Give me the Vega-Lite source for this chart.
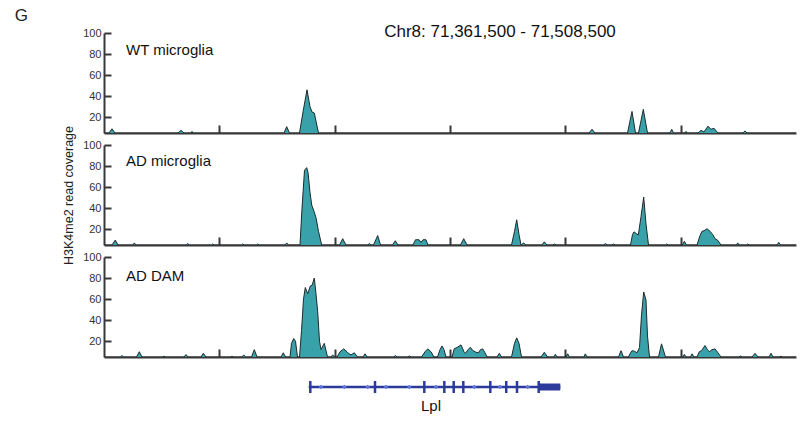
{
  "$schema": "https://vega.github.io/schema/vega-lite/v6.json",
  "padding": {"left": 14, "top": 6, "right": 5, "bottom": 5},
  "title": {"text": "G", "anchor": "start", "frame": "bounds", "fontSize": 17, "fontWeight": "normal", "color": "#222", "dx": -48, "offset": -2},
  "bounds": "flush",
  "spacing": 12,
  "config": {
    "font": "Liberation Sans",
    "view": {"stroke": null},
    "axis": {"domainColor": "#383838", "domainWidth": 2, "tickColor": "#383838", "tickWidth": 2, "labelColor": "#333", "labelFontSize": 11, "labelOverlap": false, "grid": false, "titleFontWeight": "normal", "titleColor": "#222"}
  },
  "datasets": {
    "cov": [
      {"track": "WT microglia", "pos": 71361500, "coverage": 5},
      {"track": "WT microglia", "pos": 71362562, "coverage": 5},
      {"track": "WT microglia", "pos": 71363199, "coverage": 9},
      {"track": "WT microglia", "pos": 71363837, "coverage": 5},
      {"track": "WT microglia", "pos": 71377220, "coverage": 5},
      {"track": "WT microglia", "pos": 71377857, "coverage": 7.5},
      {"track": "WT microglia", "pos": 71378494, "coverage": 5},
      {"track": "WT microglia", "pos": 71379981, "coverage": 5},
      {"track": "WT microglia", "pos": 71380194, "coverage": 6.5},
      {"track": "WT microglia", "pos": 71380406, "coverage": 5},
      {"track": "WT microglia", "pos": 71399737, "coverage": 5},
      {"track": "WT microglia", "pos": 71400311, "coverage": 11},
      {"track": "WT microglia", "pos": 71400906, "coverage": 5},
      {"track": "WT microglia", "pos": 71403030, "coverage": 5},
      {"track": "WT microglia", "pos": 71403774, "coverage": 25},
      {"track": "WT microglia", "pos": 71404623, "coverage": 46},
      {"track": "WT microglia", "pos": 71405261, "coverage": 30},
      {"track": "WT microglia", "pos": 71405685, "coverage": 25},
      {"track": "WT microglia", "pos": 71406174, "coverage": 24},
      {"track": "WT microglia", "pos": 71407066, "coverage": 5},
      {"track": "WT microglia", "pos": 71464529, "coverage": 5},
      {"track": "WT microglia", "pos": 71465166, "coverage": 8.5},
      {"track": "WT microglia", "pos": 71465803, "coverage": 5},
      {"track": "WT microglia", "pos": 71472707, "coverage": 5},
      {"track": "WT microglia", "pos": 71473663, "coverage": 25.5},
      {"track": "WT microglia", "pos": 71474407, "coverage": 5},
      {"track": "WT microglia", "pos": 71475044, "coverage": 5},
      {"track": "WT microglia", "pos": 71476064, "coverage": 27.5},
      {"track": "WT microglia", "pos": 71476956, "coverage": 5},
      {"track": "WT microglia", "pos": 71481735, "coverage": 5},
      {"track": "WT microglia", "pos": 71482097, "coverage": 8.5},
      {"track": "WT microglia", "pos": 71482479, "coverage": 5},
      {"track": "WT microglia", "pos": 71484922, "coverage": 5},
      {"track": "WT microglia", "pos": 71485134, "coverage": 6.5},
      {"track": "WT microglia", "pos": 71485347, "coverage": 5},
      {"track": "WT microglia", "pos": 71487683, "coverage": 5},
      {"track": "WT microglia", "pos": 71488321, "coverage": 7.5},
      {"track": "WT microglia", "pos": 71488958, "coverage": 6},
      {"track": "WT microglia", "pos": 71489808, "coverage": 11.5},
      {"track": "WT microglia", "pos": 71490445, "coverage": 8.5},
      {"track": "WT microglia", "pos": 71491082, "coverage": 9.5},
      {"track": "WT microglia", "pos": 71491932, "coverage": 5},
      {"track": "WT microglia", "pos": 71497243, "coverage": 5},
      {"track": "WT microglia", "pos": 71497668, "coverage": 7},
      {"track": "WT microglia", "pos": 71498092, "coverage": 5},
      {"track": "WT microglia", "pos": 71508500, "coverage": 5},

      {"track": "AD microglia", "pos": 71361500, "coverage": 5},
      {"track": "AD microglia", "pos": 71363199, "coverage": 5},
      {"track": "AD microglia", "pos": 71363900, "coverage": 9.7},
      {"track": "AD microglia", "pos": 71364474, "coverage": 5},
      {"track": "AD microglia", "pos": 71367660, "coverage": 5},
      {"track": "AD microglia", "pos": 71367937, "coverage": 7},
      {"track": "AD microglia", "pos": 71368298, "coverage": 5},
      {"track": "AD microglia", "pos": 71379025, "coverage": 5},
      {"track": "AD microglia", "pos": 71379280, "coverage": 6.5},
      {"track": "AD microglia", "pos": 71379557, "coverage": 5},
      {"track": "AD microglia", "pos": 71384336, "coverage": 5},
      {"track": "AD microglia", "pos": 71384591, "coverage": 6},
      {"track": "AD microglia", "pos": 71384867, "coverage": 5},
      {"track": "AD microglia", "pos": 71390709, "coverage": 5},
      {"track": "AD microglia", "pos": 71390964, "coverage": 6},
      {"track": "AD microglia", "pos": 71391240, "coverage": 5},
      {"track": "AD microglia", "pos": 71393896, "coverage": 5},
      {"track": "AD microglia", "pos": 71394150, "coverage": 6},
      {"track": "AD microglia", "pos": 71394427, "coverage": 5},
      {"track": "AD microglia", "pos": 71399950, "coverage": 5},
      {"track": "AD microglia", "pos": 71400311, "coverage": 7},
      {"track": "AD microglia", "pos": 71400693, "coverage": 5},
      {"track": "AD microglia", "pos": 71403136, "coverage": 5},
      {"track": "AD microglia", "pos": 71403561, "coverage": 40},
      {"track": "AD microglia", "pos": 71404092, "coverage": 76},
      {"track": "AD microglia", "pos": 71404560, "coverage": 78.5},
      {"track": "AD microglia", "pos": 71404836, "coverage": 74},
      {"track": "AD microglia", "pos": 71405261, "coverage": 55},
      {"track": "AD microglia", "pos": 71405622, "coverage": 43},
      {"track": "AD microglia", "pos": 71406110, "coverage": 37},
      {"track": "AD microglia", "pos": 71406535, "coverage": 31},
      {"track": "AD microglia", "pos": 71407066, "coverage": 18},
      {"track": "AD microglia", "pos": 71407746, "coverage": 5},
      {"track": "AD microglia", "pos": 71411527, "coverage": 5},
      {"track": "AD microglia", "pos": 71412207, "coverage": 11},
      {"track": "AD microglia", "pos": 71412908, "coverage": 5},
      {"track": "AD microglia", "pos": 71417582, "coverage": 5},
      {"track": "AD microglia", "pos": 71417858, "coverage": 6.5},
      {"track": "AD microglia", "pos": 71418219, "coverage": 5},
      {"track": "AD microglia", "pos": 71418750, "coverage": 5},
      {"track": "AD microglia", "pos": 71419642, "coverage": 14},
      {"track": "AD microglia", "pos": 71420237, "coverage": 5},
      {"track": "AD microglia", "pos": 71422786, "coverage": 5},
      {"track": "AD microglia", "pos": 71423381, "coverage": 9},
      {"track": "AD microglia", "pos": 71423954, "coverage": 5},
      {"track": "AD microglia", "pos": 71427141, "coverage": 5},
      {"track": "AD microglia", "pos": 71427672, "coverage": 10},
      {"track": "AD microglia", "pos": 71428415, "coverage": 10},
      {"track": "AD microglia", "pos": 71428840, "coverage": 7.5},
      {"track": "AD microglia", "pos": 71429265, "coverage": 10},
      {"track": "AD microglia", "pos": 71429902, "coverage": 10},
      {"track": "AD microglia", "pos": 71430327, "coverage": 5},
      {"track": "AD microglia", "pos": 71437231, "coverage": 5},
      {"track": "AD microglia", "pos": 71437911, "coverage": 11},
      {"track": "AD microglia", "pos": 71438612, "coverage": 5},
      {"track": "AD microglia", "pos": 71448065, "coverage": 5},
      {"track": "AD microglia", "pos": 71448703, "coverage": 18},
      {"track": "AD microglia", "pos": 71449170, "coverage": 29},
      {"track": "AD microglia", "pos": 71449658, "coverage": 15},
      {"track": "AD microglia", "pos": 71450083, "coverage": 5},
      {"track": "AD microglia", "pos": 71450657, "coverage": 7},
      {"track": "AD microglia", "pos": 71451039, "coverage": 5},
      {"track": "AD microglia", "pos": 71454544, "coverage": 5},
      {"track": "AD microglia", "pos": 71455033, "coverage": 8},
      {"track": "AD microglia", "pos": 71455606, "coverage": 5},
      {"track": "AD microglia", "pos": 71456881, "coverage": 5},
      {"track": "AD microglia", "pos": 71457157, "coverage": 6},
      {"track": "AD microglia", "pos": 71457518, "coverage": 5},
      {"track": "AD microglia", "pos": 71467715, "coverage": 5},
      {"track": "AD microglia", "pos": 71467991, "coverage": 6.5},
      {"track": "AD microglia", "pos": 71468352, "coverage": 5},
      {"track": "AD microglia", "pos": 71469414, "coverage": 5},
      {"track": "AD microglia", "pos": 71469690, "coverage": 6},
      {"track": "AD microglia", "pos": 71470052, "coverage": 5},
      {"track": "AD microglia", "pos": 71473344, "coverage": 5},
      {"track": "AD microglia", "pos": 71473769, "coverage": 15},
      {"track": "AD microglia", "pos": 71474088, "coverage": 17.5},
      {"track": "AD microglia", "pos": 71474513, "coverage": 16},
      {"track": "AD microglia", "pos": 71475001, "coverage": 14.5},
      {"track": "AD microglia", "pos": 71475575, "coverage": 32},
      {"track": "AD microglia", "pos": 71476148, "coverage": 50.5},
      {"track": "AD microglia", "pos": 71476637, "coverage": 25},
      {"track": "AD microglia", "pos": 71477168, "coverage": 5},
      {"track": "AD microglia", "pos": 71480779, "coverage": 5},
      {"track": "AD microglia", "pos": 71481034, "coverage": 6},
      {"track": "AD microglia", "pos": 71481311, "coverage": 5},
      {"track": "AD microglia", "pos": 71484391, "coverage": 5},
      {"track": "AD microglia", "pos": 71484773, "coverage": 8.5},
      {"track": "AD microglia", "pos": 71485240, "coverage": 5},
      {"track": "AD microglia", "pos": 71487471, "coverage": 5},
      {"track": "AD microglia", "pos": 71488108, "coverage": 14},
      {"track": "AD microglia", "pos": 71488533, "coverage": 18},
      {"track": "AD microglia", "pos": 71488958, "coverage": 18.5},
      {"track": "AD microglia", "pos": 71489595, "coverage": 20.5},
      {"track": "AD microglia", "pos": 71490233, "coverage": 18},
      {"track": "AD microglia", "pos": 71490807, "coverage": 15},
      {"track": "AD microglia", "pos": 71491295, "coverage": 11},
      {"track": "AD microglia", "pos": 71491869, "coverage": 9.5},
      {"track": "AD microglia", "pos": 71492569, "coverage": 5},
      {"track": "AD microglia", "pos": 71495862, "coverage": 5},
      {"track": "AD microglia", "pos": 71496117, "coverage": 7},
      {"track": "AD microglia", "pos": 71496393, "coverage": 5},
      {"track": "AD microglia", "pos": 71497986, "coverage": 5},
      {"track": "AD microglia", "pos": 71498241, "coverage": 6},
      {"track": "AD microglia", "pos": 71498517, "coverage": 5},
      {"track": "AD microglia", "pos": 71504465, "coverage": 5},
      {"track": "AD microglia", "pos": 71504826, "coverage": 7.5},
      {"track": "AD microglia", "pos": 71505209, "coverage": 5},
      {"track": "AD microglia", "pos": 71508500, "coverage": 5},

      {"track": "AD DAM", "pos": 71361500, "coverage": 5},
      {"track": "AD DAM", "pos": 71365005, "coverage": 5},
      {"track": "AD DAM", "pos": 71365324, "coverage": 6.5},
      {"track": "AD DAM", "pos": 71365642, "coverage": 5},
      {"track": "AD DAM", "pos": 71368404, "coverage": 5},
      {"track": "AD DAM", "pos": 71368999, "coverage": 10},
      {"track": "AD DAM", "pos": 71369572, "coverage": 5},
      {"track": "AD DAM", "pos": 71373927, "coverage": 5},
      {"track": "AD DAM", "pos": 71374246, "coverage": 5.8},
      {"track": "AD DAM", "pos": 71374564, "coverage": 5},
      {"track": "AD DAM", "pos": 71378494, "coverage": 5},
      {"track": "AD DAM", "pos": 71378919, "coverage": 7.3},
      {"track": "AD DAM", "pos": 71379344, "coverage": 5},
      {"track": "AD DAM", "pos": 71382106, "coverage": 5},
      {"track": "AD DAM", "pos": 71382594, "coverage": 8.5},
      {"track": "AD DAM", "pos": 71383168, "coverage": 5},
      {"track": "AD DAM", "pos": 71388479, "coverage": 5},
      {"track": "AD DAM", "pos": 71388691, "coverage": 6},
      {"track": "AD DAM", "pos": 71388903, "coverage": 5},
      {"track": "AD DAM", "pos": 71390815, "coverage": 5},
      {"track": "AD DAM", "pos": 71391177, "coverage": 7},
      {"track": "AD DAM", "pos": 71391559, "coverage": 5},
      {"track": "AD DAM", "pos": 71392833, "coverage": 5},
      {"track": "AD DAM", "pos": 71393428, "coverage": 12},
      {"track": "AD DAM", "pos": 71394002, "coverage": 5},
      {"track": "AD DAM", "pos": 71399100, "coverage": 5},
      {"track": "AD DAM", "pos": 71399589, "coverage": 9},
      {"track": "AD DAM", "pos": 71400056, "coverage": 5},
      {"track": "AD DAM", "pos": 71401012, "coverage": 5},
      {"track": "AD DAM", "pos": 71401331, "coverage": 18},
      {"track": "AD DAM", "pos": 71401798, "coverage": 22.5},
      {"track": "AD DAM", "pos": 71402180, "coverage": 20},
      {"track": "AD DAM", "pos": 71402605, "coverage": 5},
      {"track": "AD DAM", "pos": 71403030, "coverage": 5},
      {"track": "AD DAM", "pos": 71403455, "coverage": 30},
      {"track": "AD DAM", "pos": 71403880, "coverage": 60},
      {"track": "AD DAM", "pos": 71404262, "coverage": 71},
      {"track": "AD DAM", "pos": 71404772, "coverage": 65},
      {"track": "AD DAM", "pos": 71405324, "coverage": 72.5},
      {"track": "AD DAM", "pos": 71405685, "coverage": 73},
      {"track": "AD DAM", "pos": 71406174, "coverage": 80},
      {"track": "AD DAM", "pos": 71406535, "coverage": 65},
      {"track": "AD DAM", "pos": 71406896, "coverage": 48},
      {"track": "AD DAM", "pos": 71407279, "coverage": 20},
      {"track": "AD DAM", "pos": 71407597, "coverage": 12},
      {"track": "AD DAM", "pos": 71408298, "coverage": 18},
      {"track": "AD DAM", "pos": 71408978, "coverage": 5},
      {"track": "AD DAM", "pos": 71409722, "coverage": 5},
      {"track": "AD DAM", "pos": 71410083, "coverage": 7},
      {"track": "AD DAM", "pos": 71410465, "coverage": 5},
      {"track": "AD DAM", "pos": 71410996, "coverage": 5},
      {"track": "AD DAM", "pos": 71411633, "coverage": 10},
      {"track": "AD DAM", "pos": 71412419, "coverage": 12.7},
      {"track": "AD DAM", "pos": 71413120, "coverage": 10},
      {"track": "AD DAM", "pos": 71413545, "coverage": 8},
      {"track": "AD DAM", "pos": 71413970, "coverage": 7},
      {"track": "AD DAM", "pos": 71414671, "coverage": 9},
      {"track": "AD DAM", "pos": 71415351, "coverage": 5},
      {"track": "AD DAM", "pos": 71416519, "coverage": 5},
      {"track": "AD DAM", "pos": 71416944, "coverage": 8},
      {"track": "AD DAM", "pos": 71417369, "coverage": 5},
      {"track": "AD DAM", "pos": 71423105, "coverage": 5},
      {"track": "AD DAM", "pos": 71423381, "coverage": 6.5},
      {"track": "AD DAM", "pos": 71423742, "coverage": 5},
      {"track": "AD DAM", "pos": 71426079, "coverage": 5},
      {"track": "AD DAM", "pos": 71426355, "coverage": 6},
      {"track": "AD DAM", "pos": 71426716, "coverage": 5},
      {"track": "AD DAM", "pos": 71428947, "coverage": 5},
      {"track": "AD DAM", "pos": 71429690, "coverage": 10},
      {"track": "AD DAM", "pos": 71430264, "coverage": 12.7},
      {"track": "AD DAM", "pos": 71430965, "coverage": 10},
      {"track": "AD DAM", "pos": 71431602, "coverage": 5},
      {"track": "AD DAM", "pos": 71432345, "coverage": 5},
      {"track": "AD DAM", "pos": 71432876, "coverage": 12},
      {"track": "AD DAM", "pos": 71433301, "coverage": 15.5},
      {"track": "AD DAM", "pos": 71433726, "coverage": 12},
      {"track": "AD DAM", "pos": 71434151, "coverage": 5},
      {"track": "AD DAM", "pos": 71435426, "coverage": 5},
      {"track": "AD DAM", "pos": 71435914, "coverage": 13},
      {"track": "AD DAM", "pos": 71436488, "coverage": 14},
      {"track": "AD DAM", "pos": 71437338, "coverage": 16.5},
      {"track": "AD DAM", "pos": 71437975, "coverage": 10},
      {"track": "AD DAM", "pos": 71438293, "coverage": 8.5},
      {"track": "AD DAM", "pos": 71438825, "coverage": 12},
      {"track": "AD DAM", "pos": 71439313, "coverage": 14.2},
      {"track": "AD DAM", "pos": 71439887, "coverage": 11},
      {"track": "AD DAM", "pos": 71440524, "coverage": 9.5},
      {"track": "AD DAM", "pos": 71441055, "coverage": 9},
      {"track": "AD DAM", "pos": 71441480, "coverage": 12},
      {"track": "AD DAM", "pos": 71441947, "coverage": 12.7},
      {"track": "AD DAM", "pos": 71442436, "coverage": 9},
      {"track": "AD DAM", "pos": 71442861, "coverage": 5},
      {"track": "AD DAM", "pos": 71444985, "coverage": 5},
      {"track": "AD DAM", "pos": 71445474, "coverage": 8.5},
      {"track": "AD DAM", "pos": 71445941, "coverage": 5},
      {"track": "AD DAM", "pos": 71448065, "coverage": 5},
      {"track": "AD DAM", "pos": 71448703, "coverage": 18},
      {"track": "AD DAM", "pos": 71449170, "coverage": 23.2},
      {"track": "AD DAM", "pos": 71449658, "coverage": 18},
      {"track": "AD DAM", "pos": 71450190, "coverage": 5},
      {"track": "AD DAM", "pos": 71454332, "coverage": 5},
      {"track": "AD DAM", "pos": 71455033, "coverage": 9.5},
      {"track": "AD DAM", "pos": 71455713, "coverage": 5},
      {"track": "AD DAM", "pos": 71457094, "coverage": 5},
      {"track": "AD DAM", "pos": 71457370, "coverage": 7.5},
      {"track": "AD DAM", "pos": 71457731, "coverage": 5},
      {"track": "AD DAM", "pos": 71459643, "coverage": 5},
      {"track": "AD DAM", "pos": 71460005, "coverage": 8},
      {"track": "AD DAM", "pos": 71460386, "coverage": 5},
      {"track": "AD DAM", "pos": 71463466, "coverage": 5},
      {"track": "AD DAM", "pos": 71463743, "coverage": 8},
      {"track": "AD DAM", "pos": 71464104, "coverage": 5},
      {"track": "AD DAM", "pos": 71470795, "coverage": 5},
      {"track": "AD DAM", "pos": 71471326, "coverage": 11},
      {"track": "AD DAM", "pos": 71471857, "coverage": 5},
      {"track": "AD DAM", "pos": 71472920, "coverage": 5},
      {"track": "AD DAM", "pos": 71473238, "coverage": 8},
      {"track": "AD DAM", "pos": 71473663, "coverage": 11},
      {"track": "AD DAM", "pos": 71474194, "coverage": 10.5},
      {"track": "AD DAM", "pos": 71474725, "coverage": 9},
      {"track": "AD DAM", "pos": 71475256, "coverage": 14},
      {"track": "AD DAM", "pos": 71475681, "coverage": 45},
      {"track": "AD DAM", "pos": 71476148, "coverage": 66.8},
      {"track": "AD DAM", "pos": 71476637, "coverage": 59},
      {"track": "AD DAM", "pos": 71476956, "coverage": 25},
      {"track": "AD DAM", "pos": 71477381, "coverage": 5},
      {"track": "AD DAM", "pos": 71479292, "coverage": 5},
      {"track": "AD DAM", "pos": 71479936, "coverage": 17.5},
      {"track": "AD DAM", "pos": 71480779, "coverage": 5},
      {"track": "AD DAM", "pos": 71484497, "coverage": 5},
      {"track": "AD DAM", "pos": 71484773, "coverage": 7.5},
      {"track": "AD DAM", "pos": 71485134, "coverage": 5},
      {"track": "AD DAM", "pos": 71486090, "coverage": 5},
      {"track": "AD DAM", "pos": 71486409, "coverage": 8},
      {"track": "AD DAM", "pos": 71486834, "coverage": 5},
      {"track": "AD DAM", "pos": 71487471, "coverage": 5},
      {"track": "AD DAM", "pos": 71487960, "coverage": 10},
      {"track": "AD DAM", "pos": 71488427, "coverage": 11},
      {"track": "AD DAM", "pos": 71489170, "coverage": 15.9},
      {"track": "AD DAM", "pos": 71489701, "coverage": 12},
      {"track": "AD DAM", "pos": 71490084, "coverage": 10},
      {"track": "AD DAM", "pos": 71490657, "coverage": 12},
      {"track": "AD DAM", "pos": 71491295, "coverage": 12.7},
      {"track": "AD DAM", "pos": 71491932, "coverage": 9},
      {"track": "AD DAM", "pos": 71492569, "coverage": 5},
      {"track": "AD DAM", "pos": 71496393, "coverage": 5},
      {"track": "AD DAM", "pos": 71496669, "coverage": 6},
      {"track": "AD DAM", "pos": 71497030, "coverage": 5},
      {"track": "AD DAM", "pos": 71499155, "coverage": 5},
      {"track": "AD DAM", "pos": 71499792, "coverage": 8.5},
      {"track": "AD DAM", "pos": 71500429, "coverage": 5},
      {"track": "AD DAM", "pos": 71502766, "coverage": 5},
      {"track": "AD DAM", "pos": 71503191, "coverage": 8.5},
      {"track": "AD DAM", "pos": 71503616, "coverage": 5},
      {"track": "AD DAM", "pos": 71505103, "coverage": 5},
      {"track": "AD DAM", "pos": 71505315, "coverage": 6},
      {"track": "AD DAM", "pos": 71505528, "coverage": 5},
      {"track": "AD DAM", "pos": 71508500, "coverage": 5}
    ],
    "gene": [
      {"feature": "intron", "start": 71404984, "end": 71458432},
      {"feature": "utr", "start": 71453758, "end": 71458432},
      {"feature": "exon", "start": 71405324},
      {"feature": "exon", "start": 71419069},
      {"feature": "exon", "start": 71429541},
      {"feature": "exon", "start": 71433790},
      {"feature": "exon", "start": 71435787},
      {"feature": "exon", "start": 71437826},
      {"feature": "exon", "start": 71443562},
      {"feature": "exon", "start": 71446946},
      {"feature": "exon", "start": 71449234},
      {"feature": "exon", "start": 71453843},
      {"feature": "strand", "start": 71407597},
      {"feature": "strand", "start": 71412547},
      {"feature": "strand", "start": 71417518},
      {"feature": "strand", "start": 71421405},
      {"feature": "strand", "start": 71426355},
      {"feature": "strand", "start": 71432027},
      {"feature": "strand", "start": 71440163},
      {"feature": "strand", "start": 71445622},
      {"feature": "strand", "start": 71451507}
    ]
  },
  "vconcat": [
    {
      "width": 692, "height": 100,
      "layer": [
        {
          "data": {"name": "cov"},
          "transform": [{"filter": "datum.track === 'WT microglia'"}],
          "mark": {"type": "area", "clip": true, "color": "#38a1a9", "stroke": "#1e2b2c", "strokeWidth": 1, "strokeJoin": "round"},
          "encoding": {
            "x": {"field": "pos", "type": "quantitative", "scale": {"domain": [71361500, 71508500], "nice": false}, "axis": {"values": [71386000, 71410500, 71435000, 71459500, 71484000], "tickCount": 10, "tickSize": -8, "labels": false, "title": null}},
            "y": {"field": "coverage", "type": "quantitative", "scale": {"domain": [5, 100], "nice": false, "zero": false}, "axis": {"values": [20, 40, 60, 80, 100], "tickCount": 10, "tickSize": -7, "labelPadding": 10, "labelOverlap": false, "title": null}}
          }
        },
        {
          "data": {"values": [{"label": "WT microglia"}]},
          "mark": {"type": "text", "align": "left", "baseline": "middle", "fontSize": 15, "color": "#111"},
          "encoding": {"text": {"field": "label"}, "x": {"datum": 71366173}, "y": {"datum": 83.6}}
        },
        {
          "data": {"values": [{"label": "Chr8: 71,361,500 - 71,508,500"}]},
          "mark": {"type": "text", "align": "center", "baseline": "middle", "fontSize": 17, "color": "#111"},
          "encoding": {"text": {"field": "label"}, "x": {"datum": 71445622}, "y": {"datum": 101}}
        }
      ]
    },
    {
      "width": 692, "height": 100,
      "layer": [
        {
          "data": {"name": "cov"},
          "transform": [{"filter": "datum.track === 'AD microglia'"}],
          "mark": {"type": "area", "clip": true, "color": "#38a1a9", "stroke": "#1e2b2c", "strokeWidth": 1, "strokeJoin": "round"},
          "encoding": {
            "x": {"field": "pos", "type": "quantitative", "scale": {"domain": [71361500, 71508500], "nice": false}, "axis": {"values": [71386000, 71410500, 71435000, 71459500, 71484000], "tickCount": 10, "tickSize": -8, "labels": false, "title": null}},
            "y": {"field": "coverage", "type": "quantitative", "scale": {"domain": [5, 100], "nice": false, "zero": false}, "axis": {"values": [20, 40, 60, 80, 100], "tickCount": 10, "tickSize": -7, "labelPadding": 10, "labelOverlap": false, "title": "H3K4me2 read coverage", "titleFontSize": 12.5, "titlePadding": 7}}
          }
        },
        {
          "data": {"values": [{"label": "AD microglia"}]},
          "mark": {"type": "text", "align": "left", "baseline": "middle", "fontSize": 15, "color": "#111"},
          "encoding": {"text": {"field": "label"}, "x": {"datum": 71366173}, "y": {"datum": 84.5}}
        }
      ]
    },
    {
      "width": 692, "height": 100,
      "layer": [
        {
          "data": {"name": "cov"},
          "transform": [{"filter": "datum.track === 'AD DAM'"}],
          "mark": {"type": "area", "clip": true, "color": "#38a1a9", "stroke": "#1e2b2c", "strokeWidth": 1, "strokeJoin": "round"},
          "encoding": {
            "x": {"field": "pos", "type": "quantitative", "scale": {"domain": [71361500, 71508500], "nice": false}, "axis": {"values": [71386000, 71410500, 71435000, 71459500, 71484000], "tickCount": 10, "tickSize": -8, "labels": false, "title": null}},
            "y": {"field": "coverage", "type": "quantitative", "scale": {"domain": [5, 100], "nice": false, "zero": false}, "axis": {"values": [20, 40, 60, 80, 100], "tickCount": 10, "tickSize": -7, "labelPadding": 10, "labelOverlap": false, "title": null}}
          }
        },
        {
          "data": {"values": [{"label": "AD DAM"}]},
          "mark": {"type": "text", "align": "left", "baseline": "middle", "fontSize": 15, "color": "#111"},
          "encoding": {"text": {"field": "label"}, "x": {"datum": 71366173}, "y": {"datum": 82}}
        }
      ]
    },
    {
      "width": 692, "height": 36,
      "data": {"name": "gene"},
      "layer": [
        {
          "transform": [{"filter": "datum.feature === 'intron'"}],
          "mark": {"type": "rule", "color": "#2c3a9c", "strokeWidth": 2.5},
          "encoding": {
            "x": {"field": "start", "type": "quantitative", "scale": {"domain": [71361500, 71508500], "nice": false}, "axis": null},
            "x2": {"field": "end"}
          }
        },
        {
          "transform": [{"filter": "datum.feature === 'utr'"}],
          "mark": {"type": "rule", "color": "#2c3a9c", "strokeWidth": 7},
          "encoding": {
            "x": {"field": "start", "type": "quantitative"},
            "x2": {"field": "end"}
          }
        },
        {
          "transform": [{"filter": "datum.feature === 'exon'"}],
          "mark": {"type": "tick", "orient": "vertical", "color": "#2c3a9c", "size": 12, "thickness": 2.5, "opacity": 1},
          "encoding": {
            "x": {"field": "start", "type": "quantitative"}
          }
        },
        {
          "transform": [{"filter": "datum.feature === 'strand'"}],
          "mark": {"type": "point", "shape": "diamond", "filled": true, "color": "#5f76d8", "size": 22, "opacity": 1},
          "encoding": {
            "x": {"field": "start", "type": "quantitative"}
          }
        },
        {
          "data": {"values": [{"label": "Lpl"}]},
          "mark": {"type": "text", "align": "center", "baseline": "middle", "fontSize": 15, "color": "#111", "dy": 19},
          "encoding": {"text": {"field": "label"}, "x": {"datum": 71430965}}
        }
      ]
    }
  ]
}
